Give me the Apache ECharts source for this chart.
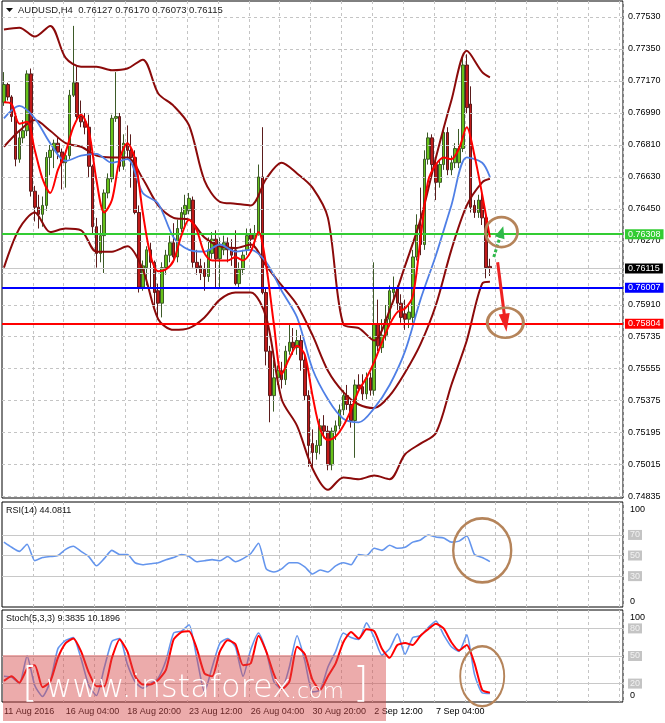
<!DOCTYPE html>
<html>
<head>
<meta charset="utf-8">
<title>AUDUSD H4</title>
<script src="https://cdn.jsdelivr.net/npm/echarts@6.0.0/dist/echarts.min.js"></script>
<style>
  html, body { margin: 0; padding: 0; background: #fff; }
  #chart { width: 665px; height: 723px; }
</style>
</head>
<body>
<div id="chart"></div>
<script>
// ---- data ----
const symbolName = 'AUDUSD,H4';
const slotCount = 161;               // 127 bars + empty shift on the right
const labelStep = 16;
const tickLabels = ['11 Aug 2016', '16 Aug 04:00', '18 Aug 20:00', '23 Aug 12:00',
  '26 Aug 04:00', '30 Aug 20:00', '2 Sep 12:00', '7 Sep 04:00'];

// [open, high, low, close]
const ohlc = [
  [0.7705,0.7722,0.7703,0.7715],[0.7715,0.7716,0.7706,0.7708],[0.7708,0.7709,0.7694,0.7697],[0.7697,0.7698,0.7669,0.7673],
  [0.7673,0.7689,0.7671,0.7685],[0.7685,0.7695,0.7682,0.7689],[0.7689,0.7723,0.7686,0.7721],[0.7721,0.7724,0.7652,0.7655],
  [0.7655,0.7658,0.7638,0.7646],[0.7646,0.7653,0.7634,0.7642],[0.7642,0.7652,0.7635,0.7647],[0.7647,0.7677,0.7644,0.7674],
  [0.7674,0.7681,0.7664,0.7678],[0.7678,0.7684,0.7668,0.7682],[0.7682,0.7685,0.7673,0.7677],[0.7677,0.7679,0.7656,0.7671],
  [0.7671,0.7678,0.7657,0.7675],[0.7675,0.7712,0.7673,0.7709],[0.7709,0.7748,0.7708,0.7716],[0.7716,0.7725,0.7695,0.7697],
  [0.7697,0.7706,0.7691,0.7694],[0.7694,0.7699,0.7687,0.7691],[0.7691,0.7698,0.7663,0.7669],[0.7669,0.7670,0.7631,0.7635],
  [0.7635,0.7640,0.7612,0.7620],[0.7620,0.7636,0.7615,0.7630],[0.7630,0.7656,0.7609,0.7654],[0.7654,0.7665,0.7651,0.7662],
  [0.7662,0.7698,0.7660,0.7696],[0.7696,0.7722,0.7694,0.7697],[0.7697,0.7699,0.7666,0.7669],[0.7669,0.7687,0.7667,0.7682],
  [0.7682,0.7692,0.7673,0.7678],[0.7678,0.7687,0.7657,0.7674],[0.7674,0.7678,0.7642,0.7643],[0.7643,0.7647,0.7598,0.7601],
  [0.7601,0.7616,0.7599,0.7613],[0.7612,0.7624,0.7602,0.7622],[0.7622,0.7626,0.7601,0.7615],[0.7615,0.7616,0.7590,0.7598],
  [0.7599,0.7603,0.7583,0.7592],[0.7592,0.7615,0.7584,0.7612],[0.7612,0.7622,0.7608,0.7619],[0.7619,0.7630,0.7615,0.7626],
  [0.7626,0.7637,0.7615,0.7618],[0.7618,0.7639,0.7615,0.7634],[0.7634,0.7646,0.7632,0.7643],[0.7642,0.7653,0.7634,0.7647],
  [0.7644,0.7654,0.7642,0.7651],[0.7650,0.7652,0.7612,0.7615],[0.7615,0.7622,0.7608,0.7612],[0.7613,0.7617,0.7605,0.7609],
  [0.7611,0.7615,0.7599,0.7607],[0.7607,0.7629,0.7604,0.7622],[0.7620,0.7632,0.7617,0.7628],[0.7628,0.7633,0.7601,0.7617],
  [0.7617,0.7629,0.7601,0.7624],[0.7622,0.7630,0.7619,0.7626],[0.7626,0.7629,0.7615,0.7622],[0.7623,0.7628,0.7613,0.7619],
  [0.7622,0.7633,0.7602,0.7603],[0.7603,0.7615,0.7600,0.7611],[0.7611,0.7622,0.7608,0.7619],[0.7622,0.7634,0.7619,0.7630],
  [0.7631,0.7634,0.7623,0.7628],[0.7628,0.7636,0.7623,0.7631],[0.7631,0.7670,0.7630,0.7663],[0.7663,0.7691,0.7597,0.7598],
  [0.7598,0.7600,0.7557,0.7565],[0.7565,0.7568,0.7525,0.7540],[0.7540,0.7560,0.7531,0.7550],[0.7550,0.7557,0.7546,0.7554],
  [0.7554,0.7559,0.7544,0.7549],[0.7549,0.7568,0.7546,0.7565],[0.7565,0.7580,0.7563,0.7570],[0.7570,0.7578,0.7563,0.7567],
  [0.7567,0.7577,0.7563,0.7571],[0.7571,0.7574,0.7554,0.7560],[0.7560,0.7563,0.7537,0.7540],[0.7540,0.7543,0.7500,0.7512],
  [0.7513,0.7521,0.7500,0.7508],[0.7508,0.7515,0.7504,0.7512],[0.7512,0.7527,0.7507,0.7523],[0.7523,0.7529,0.7516,0.7520],
  [0.7520,0.7523,0.7498,0.7501],[0.7501,0.7522,0.7498,0.7520],[0.7520,0.7526,0.7515,0.7523],[0.7523,0.7535,0.7521,0.7532],
  [0.7532,0.7543,0.7529,0.7540],[0.7540,0.7546,0.7532,0.7535],[0.7535,0.7537,0.7522,0.7526],[0.7526,0.7549,0.7505,0.7546],
  [0.7546,0.7552,0.7542,0.7544],[0.7545,0.7552,0.7537,0.7541],[0.7541,0.7553,0.7538,0.7550],[0.7550,0.7553,0.7540,0.7543],
  [0.7543,0.7615,0.7540,0.7580],[0.7580,0.7594,0.7565,0.7568],[0.7567,0.7583,0.7564,0.7574],[0.7574,0.7591,0.7571,0.7583],
  [0.7583,0.7602,0.7580,0.7599],[0.7598,0.7607,0.7594,0.7600],[0.7600,0.7602,0.7588,0.7592],[0.7592,0.7597,0.7581,0.7584],
  [0.7586,0.7594,0.7577,0.7583],[0.7583,0.7591,0.7578,0.7587],[0.7584,0.7622,0.7581,0.7618],[0.7618,0.7642,0.7616,0.7636],
  [0.7636,0.7657,0.7619,0.7625],[0.7625,0.7678,0.7622,0.7673],[0.7673,0.7688,0.7670,0.7685],[0.7685,0.7687,0.7666,0.7670],
  [0.7670,0.7673,0.7650,0.7660],[0.7660,0.7673,0.7657,0.7670],[0.7670,0.7691,0.7667,0.7688],[0.7688,0.7691,0.7664,0.7667],
  [0.7667,0.7675,0.7664,0.7671],[0.7671,0.7682,0.7668,0.7679],[0.7671,0.7690,0.7668,0.7679],[0.7679,0.7730,0.7677,0.7726],
  [0.7726,0.7732,0.7699,0.7702],[0.7704,0.7714,0.7643,0.7646],[0.7647,0.7650,0.7640,0.7643],[0.7643,0.7653,0.7640,0.7650],
  [0.7650,0.7654,0.7636,0.7640],[0.7640,0.7644,0.7606,0.7612],[0.76127,0.76170,0.76073,0.76115]
];

// bands and slow MA, read every 4 bars
const bandBars = [0,4,8,12,16,20,24,28,32,36,40,44,48,52,56,60,64,68,72,76,80,84,88,92,96,100,104,108,112,116,120,124,126];
const bbUpper = [0.7746,0.7747,0.7742,0.7748,0.7730,0.7725,0.7725,0.7723,0.7724,0.7729,0.7710,0.7703,0.7692,0.7661,0.7649,0.7648,0.7647,
  0.7662,0.7671,0.7665,0.7657,0.7640,0.7580,0.7578,0.7571,0.7588,0.7613,0.7639,0.7674,0.7706,0.7734,0.7722,0.7719];
const bbMiddle = [0.7680,0.7689,0.7695,0.7689,0.7682,0.7680,0.7675,0.7674,0.7674,0.7662,0.7647,0.7640,0.7639,0.7629,0.7624,0.7623,0.7625,
  0.7613,0.7602,0.7591,0.7574,0.7554,0.7542,0.7535,0.7533,0.7540,0.7553,0.7569,0.7591,0.7622,0.7647,0.7660,0.7662];
const bbLower = [0.7612,0.7634,0.7643,0.7632,0.7634,0.7633,0.7621,0.7621,0.7624,0.7611,0.7583,0.7577,0.7578,0.7584,0.7594,0.7598,0.7598,
  0.7584,0.7538,0.7523,0.7499,0.7487,0.7494,0.7493,0.7495,0.7493,0.7507,0.7513,0.7519,0.7546,0.7571,0.7603,0.7604];
const maSlow = [0.7696,0.7703,0.7696,0.7682,0.7672,0.7675,0.7676,0.7671,0.7673,0.7654,0.7648,0.7629,0.7622,0.7621,0.7625,0.7621,0.7622,
  0.7615,0.7599,0.7584,0.7555,0.7538,0.7527,0.7525,0.7533,0.7546,0.7565,0.7594,0.7619,0.7647,0.7674,0.7671,0.7663];

// fast MA and oscillators, read every 2 bars
const fastBars = [0,2,4,6,8,10,12,14,16,18,20,22,24,26,28,30,32,34,36,38,40,42,44,46,48,50,52,54,56,58,60,62,
  64,66,68,70,72,74,76,78,80,82,84,86,88,90,92,94,96,98,100,102,104,106,108,110,112,114,116,118,120,122,124,126];
const maFast = [0.7705,0.7704,0.7693,0.7694,0.7678,0.7662,0.7654,0.7667,0.7677,0.7691,0.7698,0.7689,0.7661,0.7643,0.7650,0.7673,
  0.7682,0.7673,0.7643,0.7619,0.7610,0.7611,0.7616,0.7630,0.7639,0.7633,0.7620,0.7616,0.7616,0.7616,0.7618,0.7616,
  0.7621,0.7632,0.7613,0.7580,0.7552,0.7561,0.7568,0.7563,0.7540,0.7521,0.7515,0.7517,0.7523,0.7532,0.7543,0.7550,
  0.7559,0.7570,0.7580,0.7587,0.7589,0.7596,0.7628,0.7661,0.7670,0.7674,0.7673,0.7679,0.7691,0.7675,0.7653,0.7629];
const rsi = [63,58,54,61,45,48,49,50,56,59,54,49,40,47,55,51,51,43,41,42,43,46,48,51,49,44,45,46,45,49,44,47,
  52,62,37,34,37,43,43,39,32,36,34,40,43,41,51,50,57,55,60,57,58,63,65,70,68,67,63,64,69,51,48,44.0811];
const stochMain = [28,27,20,50,18,6,22,58,67,70,47,18,7,37,66,69,41,22,15,20,26,45,75,77,84,48,11,38,64,69,60,28,
  57,75,55,22,14,38,72,45,11,13,38,55,75,70,68,86,70,51,58,74,52,70,72,81,88,73,60,55,73,30,10,9.3835];
const stochSignal = [23,28,21,36,40,16,22,48,64,69,55,32,17,17,48,68,55,28,19,19,24,35,68,76,77,58,31,28,55,67,63,40,
  42,72,55,30,14,22,60,52,24,13,28,42,65,76,69,79,77,58,48,62,64,62,72,79,85,80,65,56,62,42,13,10.1896];

const priceTicks = ['0.77530','0.77350','0.77170','0.76990','0.76810','0.76630','0.76450','0.76270',
  '0.76090','0.75910','0.75735','0.75555','0.75375','0.75195','0.75015','0.74835'];
const resistance = 0.76308;
const pivot = 0.76007;
const target = 0.75804;
const rsiLevels = [70, 50, 30];
const stochLevels = [80, 50, 20];

// ---- chart ----
const font = "'Liberation Sans', Arial, sans-serif";
const dash = { type: [3, 3], color: '#c4c4c4', width: 1 };
const cats = Array.from({ length: slotCount }, (_, i) => String(i));
const last = ohlc[ohlc.length - 1];
const lastClose = last[3];
const fmt = (v) => v.toFixed(5);

const chart = echarts.init(document.getElementById('chart'));

function xAxisFor(gi, labels) {
  return {
    type: 'category', gridIndex: gi, data: cats, boundaryGap: true,
    axisLine: { show: false }, axisTick: { show: false },
    splitLine: { show: true, interval: (i) => i > 0 && i % 8 === 0, lineStyle: dash },
    axisLabel: labels ? {
      show: true, margin: 5, align: 'left', color: '#000', fontSize: 9, fontFamily: font,
      interval: (i) => i % labelStep === 0 && i / labelStep < tickLabels.length,
      formatter: (v, i) => tickLabels[i / labelStep] || ''
    } : { show: false }
  };
}

function levelLabel(text, bg, fg) {
  return { show: true, position: 'end', distance: 2, formatter: text, color: fg, backgroundColor: bg,
    padding: [1, 3, 0, 3], fontSize: 9, fontFamily: font };
}

function oscLevels(values) {
  return {
    silent: true, symbol: 'none', precision: 0,
    lineStyle: { color: '#c8c8c8', width: 1, type: 'solid' },
    label: { show: true, position: 'end', distance: 5, color: '#f2f2f2', backgroundColor: '#c4c4c4',
      padding: [1, 2, 0, 2], fontSize: 9, fontFamily: font },
    data: values.map(v => ({ yAxis: v, label: { formatter: String(v) } }))
  };
}

function oscAxis(gi, max, rich) {
  return {
    type: 'value', gridIndex: gi, min: 0, max: max, interval: 50, position: 'right',
    axisLine: { show: false }, axisTick: { show: false }, splitLine: { show: false },
    axisLabel: {
      show: true, margin: 7, color: '#000', fontSize: 9, fontFamily: font,
      formatter: (v) => v === 100 ? '{t|100}' : (v === 0 ? '{b|0}' : ''),
      rich: rich
    }
  };
}

const lineBase = { type: 'line', showSymbol: false, symbol: 'none', smooth: 0.3, silent: true };

const option = {
  animation: false,
  backgroundColor: '#fff',
  grid: [
    { left: 2, right: 42, top: 1, height: 497, show: true, borderColor: '#000', borderWidth: 1 },
    { left: 2, right: 42, top: 502, height: 105, show: true, borderColor: '#000', borderWidth: 1 },
    { left: 2, right: 42, top: 610, height: 92, show: true, borderColor: '#000', borderWidth: 1 }
  ],
  xAxis: [xAxisFor(0, false), xAxisFor(1, false), xAxisFor(2, true)],
  yAxis: [
    { type: 'value', gridIndex: 0, min: 0.74824, max: 0.77620, position: 'right',
      axisLine: { show: false }, axisTick: { show: false }, splitLine: { show: false }, axisLabel: { show: false } },
    oscAxis(1, 102, { t: { fontSize: 9, fontFamily: font, padding: [10, 0, 0, 0] }, b: { fontSize: 9, fontFamily: font, padding: [0, 0, 10, 0] } }),
    oscAxis(2, 100, { t: { fontSize: 9, fontFamily: font, padding: [16, 0, 0, 0] }, b: { fontSize: 9, fontFamily: font, padding: [0, 0, 12, 0] } })
  ],
  series: [
    {
      name: 'grid', type: 'line', xAxisIndex: 0, yAxisIndex: 0, data: [], z: 1,
      markLine: {
        silent: true, symbol: 'none', precision: 5, lineStyle: dash,
        label: { show: true, position: 'end', distance: 5, color: '#000', fontSize: 9, fontFamily: font },
        data: priceTicks.map(t => ({ yAxis: parseFloat(t), label: { formatter: t === '0.76090' ? '' : t } }))
      }
    },
    {
      name: symbolName, type: 'candlestick', xAxisIndex: 0, yAxisIndex: 0, barWidth: 3, z: 2,
      itemStyle: { color: '#66c21a', color0: '#c01a1a', borderColor: '#3d5a28', borderColor0: '#5a1c1c', borderWidth: 1 },
      data: ohlc.map(r => [r[0], r[3], r[2], r[1]])
    },
    Object.assign({}, lineBase, { name: 'BB upper', xAxisIndex: 0, yAxisIndex: 0, z: 3,
      lineStyle: { color: '#8b0a0a', width: 2 }, data: bandBars.map((b, k) => [b, bbUpper[k]]) }),
    Object.assign({}, lineBase, { name: 'BB middle', xAxisIndex: 0, yAxisIndex: 0, z: 3,
      lineStyle: { color: '#8b0a0a', width: 2 }, data: bandBars.map((b, k) => [b, bbMiddle[k]]) }),
    Object.assign({}, lineBase, { name: 'BB lower', xAxisIndex: 0, yAxisIndex: 0, z: 3,
      lineStyle: { color: '#8b0a0a', width: 2 }, data: bandBars.map((b, k) => [b, bbLower[k]]) }),
    Object.assign({}, lineBase, { name: 'MA slow', xAxisIndex: 0, yAxisIndex: 0, z: 4,
      lineStyle: { color: '#4f7fe6', width: 1.8 }, data: bandBars.map((b, k) => [b, maSlow[k]]) }),
    Object.assign({}, lineBase, { name: 'MA fast', xAxisIndex: 0, yAxisIndex: 0, z: 5,
      lineStyle: { color: '#ff0000', width: 2 }, data: fastBars.map((b, k) => [b, maFast[k]]) }),
    {
      name: 'levels', type: 'line', xAxisIndex: 0, yAxisIndex: 0, data: [], z: 8,
      markLine: {
        silent: true, symbol: 'none', precision: 5,
        data: [
          { yAxis: lastClose, lineStyle: { color: '#c8c8c8', width: 1, type: 'solid' }, label: levelLabel(fmt(lastClose), '#000', '#fff') },
          { yAxis: resistance, lineStyle: { color: '#33cc33', width: 2, type: 'solid' }, label: levelLabel(fmt(resistance), '#33cc33', '#fff') },
          { yAxis: pivot, lineStyle: { color: '#0000ff', width: 2, type: 'solid' }, label: levelLabel(fmt(pivot), '#0000ff', '#fff') },
          { yAxis: target, lineStyle: { color: '#ff0000', width: 2, type: 'solid' }, label: levelLabel(fmt(target), '#ff0000', '#fff') }
        ]
      }
    },
    {
      name: 'arrows', type: 'line', xAxisIndex: 0, yAxisIndex: 0, data: [], z: 9,
      markLine: {
        silent: true, precision: 5, label: { show: false },
        data: [
          [{ coord: [127, 0.7618], symbol: 'none', lineStyle: { color: '#2fb84a', width: 3, type: [3, 2] } },
           { coord: [129, 0.7632], symbol: 'triangle', symbolSize: [10, 12] }],
          [{ coord: [128, 0.7615], symbol: 'none', lineStyle: { color: '#ee2222', width: 3, type: 'solid' } },
           { coord: [130, 0.7581], symbol: 'triangle', symbolSize: [11, 18] }]
        ]
      }
    },
    Object.assign({}, lineBase, { name: 'RSI', xAxisIndex: 1, yAxisIndex: 1, z: 4, smooth: 0.2,
      lineStyle: { color: '#6495ed', width: 1.6 }, data: fastBars.map((b, k) => [b, rsi[k]]),
      markLine: oscLevels(rsiLevels) }),
    Object.assign({}, lineBase, { name: 'Stoch main', xAxisIndex: 2, yAxisIndex: 2, z: 4, smooth: 0.2,
      lineStyle: { color: '#6495ed', width: 1.6 }, data: fastBars.map((b, k) => [b, stochMain[k]]),
      markLine: oscLevels(stochLevels) }),
    Object.assign({}, lineBase, { name: 'Stoch signal', xAxisIndex: 2, yAxisIndex: 2, z: 5, smooth: 0.2,
      lineStyle: { color: '#ff0000', width: 2 }, data: fastBars.map((b, k) => [b, stochSignal[k]]) })
  ]
};

chart.setOption(option);

// rings drawn on top, placed through the axes
const rings = [
  { grid: 0, at: [129, 0.7632], rx: 16, ry: 15 },
  { grid: 0, at: [130, 0.7581], rx: 18, ry: 15 },
  { grid: 1, at: [124, 55], rx: 29, ry: 32 },
  { grid: 2, at: [124, 28], rx: 22, ry: 30 }
];

const txt = (x, y, text, size, color, weight, family, z) => ({
  type: 'text', x: x, y: y, z: z || 300, silent: true,
  style: { text: text, fill: color, fontSize: size, fontWeight: weight || 'normal',
    fontFamily: family || font, verticalAlign: 'middle', align: 'left' }
});

const graphics = [
  { type: 'polygon', z: 300, silent: true, shape: { points: [[6, 8], [13, 8], [9.5, 12]] }, style: { fill: '#111' } },
  txt(18, 10, symbolName + '  ' + last.map(fmt).join(' '), 9.5, '#222'),
  txt(6, 511, 'RSI(14) ' + rsi[rsi.length - 1].toFixed(4), 9, '#111'),
  txt(6, 619, 'Stoch(5,3,3) ' + stochMain[stochMain.length - 1].toFixed(4) + ' ' + stochSignal[stochSignal.length - 1].toFixed(4), 9, '#111')
];

rings.forEach(r => {
  const p = chart.convertToPixel({ gridIndex: r.grid }, r.at);
  graphics.push({
    type: 'circle', x: p[0], y: p[1], scaleX: r.rx / r.ry, z: 310, silent: true,
    shape: { cx: 0, cy: 0, r: r.ry },
    style: { fill: 'none', stroke: '#b5845a', lineWidth: 2.6, strokeNoScale: true }
  });
});

// watermark
const wmFamily = "'DejaVu Sans ExtraLight', 'DejaVu Sans', sans-serif";
graphics.push(
  { type: 'rect', z: 320, silent: true, shape: { x: 3, y: 655, width: 383, height: 66 }, style: { fill: 'rgba(214,72,72,0.46)' } },
  txt(22, 686, '[', 40, '#fff', 200, wmFamily, 330),
  txt(46, 689, 'www.instaforex', 32, '#fff', 200, wmFamily, 330),
  txt(290, 692, '.com', 22, '#fff', 200, wmFamily, 330),
  txt(353, 686, ']', 40, '#fff', 200, wmFamily, 330)
);

chart.setOption({ graphic: graphics });
</script>
</body>
</html>
